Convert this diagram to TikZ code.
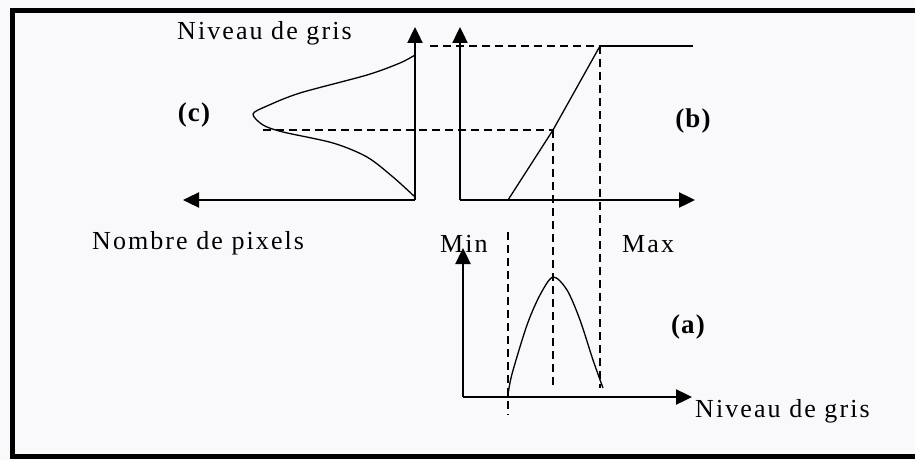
\documentclass[tikz,border=0pt]{standalone}
\usepackage{fontspec}
\usetikzlibrary{arrows.meta}
\newfontfamily\lblfont[LetterSpace=8]{Liberation Serif}
\newfontfamily\tagfont[LetterSpace=4]{Liberation Serif}
\definecolor{paper}{HTML}{F9F9FB}
\begin{document}
\begin{tikzpicture}[x=1pt,y=-1pt,
  axisline/.style={line width=2.4pt,-{Triangle[length=16pt,width=15pt]}},
  curveline/.style={line width=1.3pt},
  dashline/.style={line width=2.4pt,dash pattern=on 8pt off 5pt},
  lbl/.style={font=\lblfont\fontsize{26}{30}\selectfont,inner sep=0pt},
  tag/.style={font=\tagfont\bfseries\fontsize{27}{30}\selectfont,inner sep=0pt}]
\useasboundingbox (0,0) rectangle (915,460);
\fill[paper] (0,0) rectangle (915,460);
% frame (no right side)
\draw[line width=5pt] (915,11) -- (12,11) -- (12,456) -- (915,456);
% coordinates
\coordinate (cO) at (415,200);
\coordinate (cY) at (415,27);
\coordinate (cX) at (183,200);
\coordinate (bO) at (460,200);
\coordinate (bY) at (460,27);
\coordinate (bX) at (695,200);
\coordinate (aO) at (463,397);
\coordinate (aY) at (463,248);
\coordinate (aX) at (692,397);
\coordinate (bMin) at (508,200);
\coordinate (bMid) at (553,130);
\coordinate (bMax) at (600,46);
\coordinate (bEnd) at (693,46);
\coordinate (cMid) at (263,130);
\coordinate (cTop) at (430,46);
\coordinate (dMinT) at (508,232);
\coordinate (dMinB) at (508,415);
\coordinate (dMidB) at (553,388);
\coordinate (dMaxB) at (600,388);
% axes
\draw[axisline] (cO) -- (cY);
\draw[axisline] (cO) -- (cX);
\draw[axisline] (bO) -- (bY);
\draw[axisline] (bO) -- (bX);
\draw[axisline] (aO) -- (aY);
\draw[axisline] (aO) -- (aX);
% dashed projections
\draw[dashline] (cTop) -- (bMax);
\draw[dashline] (cMid) -- (bMid);
\draw[dashline] (bMid) -- (dMidB);
\draw[dashline] (bMax) -- (dMaxB);
\draw[dashline] (dMinT) -- (dMinB);
% transfer function (b)
\draw[curveline] (bMin) -- (bMid) -- (bMax);
\draw[line width=2pt] (bMax) -- (bEnd);
% histogram (c)
\draw[curveline] plot[smooth,tension=0.5] coordinates {(415,55) (400,63) (367,75) (300,93) (267,106) (253,114) (263,125) (283,132) (333,143) (367,157) (393,177) (415,197)};
% histogram (a)
\draw[curveline] plot[smooth,tension=0.5] coordinates {(508,395) (512,374) (527,325) (540,295) (553,277) (567,290) (580,320) (593,360) (603,388)};
% labels
\node[lbl,anchor=base west] (tNg) at (177,40) {Niveau de gris};
\node[lbl,anchor=base west] (tNp) at (92,249) {Nombre de pixels};
\node[lbl,anchor=base west] (tMin) at (440,252) {Min};
\node[lbl,anchor=base west] (tMax) at (622,252) {Max};
\node[lbl,anchor=base west] (tNg2) at (695,417) {Niveau de gris};
\node[tag] (tc) at (194,115) {(c)};
\node[tag] (tb) at (693,121) {(b)};
\node[tag] (ta) at (688,327) {(a)};
\end{tikzpicture}
\end{document}
